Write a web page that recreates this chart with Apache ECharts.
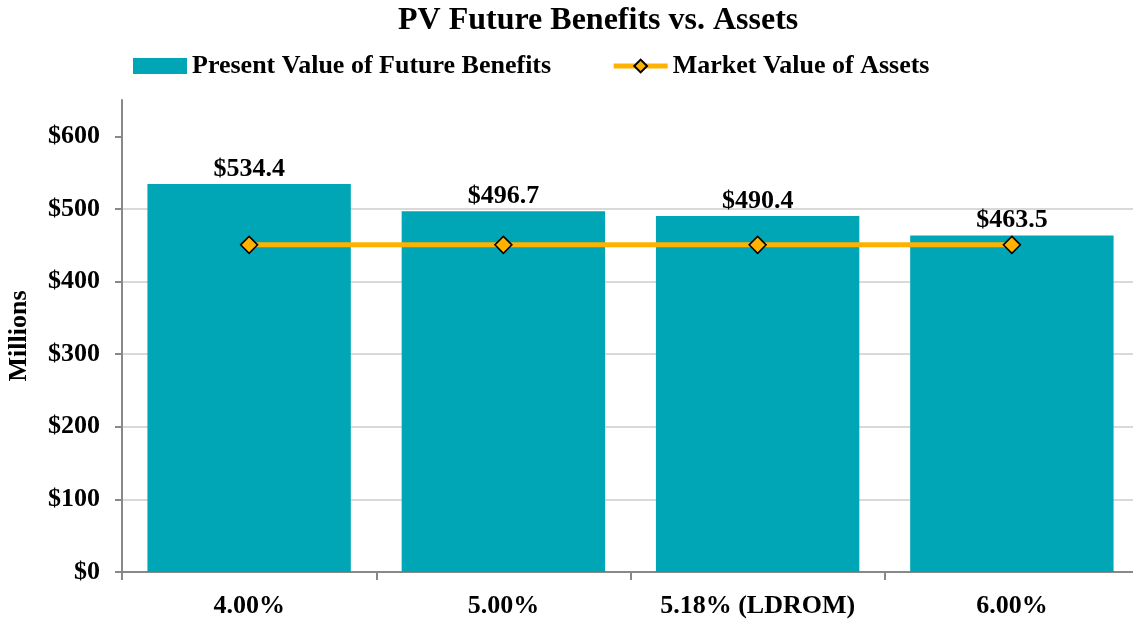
<!DOCTYPE html>
<html>
<head>
<meta charset="utf-8">
<script src="https://cdn.jsdelivr.net/npm/echarts@6/dist/echarts.min.js"></script>
<style>
  html, body { margin: 0; padding: 0; background: #fff; }
  #chart { width: 1133px; height: 619px; }
</style>
</head>
<body>
<div id="chart"></div>
<script>
// chart data
const categories = ['4.00%', '5.00%', '5.18% (LDROM)', '6.00%']
const pvBenefits = [534.4, 496.7, 490.4, 463.5]
const marketAssets = [450.5, 450.5, 450.5, 450.5]
const yTicks = [0, 100, 200, 300, 400, 500, 600]

const serif = '"Liberation Serif", "Times New Roman", serif'

const chart = echarts.init(document.getElementById('chart'))

const option = {
  animation: false,
  title: {
    text: 'PV Future Benefits vs. Assets',
    left: 393,
    top: 0,
    textStyle: { fontFamily: serif, fontWeight: 'bold', fontSize: 32, color: '#000' }
  },
  legend: {
    left: 128,
    top: 48,
    itemGap: 60,
    itemWidth: 54,
    itemHeight: 16,
    textStyle: { fontFamily: serif, fontWeight: 'bold', fontSize: 26, color: '#000' },
    data: [
      { name: 'Present Value of Future Benefits', icon: 'rect' },
      { name: 'Market Value of Assets', lineStyle: { width: 5, color: '#FFB300' } }
    ]
  },
  grid: {
    left: 122,
    width: 1017,
    top: 100,
    bottom: 47,
    outerBoundsMode: 'none'
  },
  xAxis: {
    type: 'category',
    data: categories,
    axisLine: { lineStyle: { color: '#888', width: 2 } },
    axisTick: { show: true, length: 8, lineStyle: { color: '#888', width: 2 } },
    axisLabel: {
      interval: 0,
      margin: 21,
      fontFamily: serif,
      fontWeight: 'bold',
      fontSize: 26,
      color: '#000'
    }
  },
  yAxis: {
    type: 'value',
    min: 0,
    max: 650,
    interval: 100,
    name: 'Millions',
    nameLocation: 'middle',
    nameGap: 90,
    nameRotate: 90,
    nameTextStyle: { fontFamily: serif, fontWeight: 'bold', fontSize: 26, color: '#000' },
    axisLine: { show: true, lineStyle: { color: '#888', width: 2 } },
    axisTick: { show: true, length: 7, customValues: yTicks, lineStyle: { color: '#888', width: 2 } },
    axisLabel: {
      customValues: yTicks,
      margin: 22,
      fontFamily: serif,
      fontWeight: 'bold',
      fontSize: 26,
      color: '#000',
      formatter: v => '$' + v
    },
    splitLine: { show: true, showMaxLine: false, lineStyle: { color: '#d9d9d9', width: 2 } }
  },
  series: [
    {
      name: 'Present Value of Future Benefits',
      type: 'bar',
      data: pvBenefits,
      barCategoryGap: '20%',
      itemStyle: { color: '#00A6B6' },
      label: {
        show: true,
        position: 'top',
        distance: 2,
        fontFamily: serif,
        fontWeight: 'bold',
        fontSize: 26,
        color: '#000',
        formatter: p => '$' + p.value.toFixed(1)
      }
    },
    {
      name: 'Market Value of Assets',
      type: 'line',
      data: marketAssets,
      symbol: 'diamond',
      symbolSize: 17,
      lineStyle: { color: '#FFB300', width: 5 },
      itemStyle: { color: '#FFB300', borderColor: '#000', borderWidth: 1.5 }
    }
  ]
}

chart.setOption(option)
</script>
</body>
</html>
